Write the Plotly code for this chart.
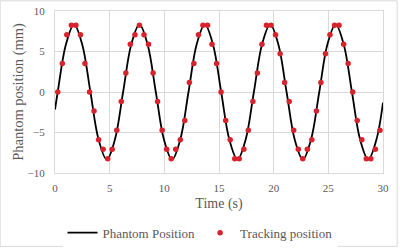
import plotly.graph_objects as go

# Phantom position (continuous reference line)
line_t = [0, 0.25, 1.00, 1.745, 2.49, 3.24, 3.985, 4.735, 5.48, 6.23, 6.975, 7.725, 8.47, 9.22,
          9.965, 10.715, 11.46, 12.21, 12.955, 13.705, 14.45, 15.2, 15.945, 16.695, 17.44, 18.19,
          18.935, 19.685, 20.43, 21.18, 21.925, 22.675, 23.42, 24.17, 24.915, 25.665, 26.41,
          27.16, 27.905, 28.655, 29.4, 30.0]
line_y = [-2.16, 0, 5.87, 8.35, 5.87, 0, -5.87, -8.35, -5.87, 0, 5.87, 8.35, 5.87, 0, -5.87, -8.35,
          -5.87, 0, 5.87, 8.35, 5.87, 0, -5.87, -8.35, -5.87, 0, 5.87, 8.35, 5.87, 0, -5.87, -8.35,
          -5.87, 0, 5.87, 8.35, 5.87, 0, -5.87, -8.35, -5.87, -1.3]

# Tracking position samples
track_t = [0.25, 0.67, 1.08, 1.50, 1.91, 2.33, 2.74, 3.16, 3.57, 3.99, 4.40, 4.82, 5.23, 5.65,
           6.06, 6.48, 6.89, 7.31, 7.72, 8.14, 8.55, 8.97, 9.38, 9.80, 10.21, 10.63, 11.04,
           11.46, 11.87, 12.29, 12.70, 13.12, 13.53, 13.95, 14.36, 14.78, 15.19, 15.61, 16.02,
           16.44, 16.85, 17.27, 17.68, 18.10, 18.51, 18.93, 19.34, 19.76, 20.17, 20.59, 21.00,
           21.42, 21.83, 22.25, 22.66, 23.08, 23.49, 23.91, 24.32, 24.74, 25.15, 25.57, 25.98,
           26.40, 26.81, 27.23, 27.64, 28.06, 28.47, 28.89, 29.30, 29.72]
track_y = [0, 3.53, 7.06, 8.24, 8.24, 7.06, 3.53, 0, -2.35, -5.88, -7.06, -8.24, -7.06, -4.71,
           -1.18, 2.35, 5.88, 7.06, 8.24, 7.06, 5.88, 2.35, -1.18, -4.71, -7.06, -8.24, -7.06,
           -5.88, -3.53, 1.18, 3.53, 7.06, 8.24, 8.24, 5.88, 3.53, 0, -3.53, -5.88, -8.24, -8.24,
           -7.06, -4.71, -1.18, 2.35, 5.88, 8.24, 8.24, 7.06, 4.71, 1.18, -1.18, -4.71, -7.06,
           -8.24, -7.06, -5.88, -2.35, 1.18, 4.71, 7.06, 8.24, 8.24, 5.88, 3.53, 0, -3.53, -5.88,
           -8.24, -8.24, -7.06, -4.71]

x_ticks = [0, 5, 10, 15, 20, 25, 30]
y_ticks = [-10, -5, 0, 5, 10]

FONT = "Liberation Serif"
GRAY = "#595959"
GRID = "#d9d9d9"

L, R, T, B = 55.3, 383.3, 10.7, 173.0
W, H = 400, 248
pw, ph = R - L, B - T

fig = go.Figure()
fig.add_trace(go.Scatter(x=line_t, y=line_y, mode="lines", name="Phantom Position",
                         line=dict(color="black", width=1.8, shape="spline", smoothing=1.0)))
fig.add_trace(go.Scatter(x=track_t, y=track_y, mode="markers", name="Tracking position",
                         marker=dict(color="#d9232c", size=5.5)))

fig.update_layout(
    width=W, height=H,
    margin=dict(l=L, r=W - R, t=T, b=H - B, autoexpand=False),
    paper_bgcolor="white", plot_bgcolor="white",
    font=dict(family=FONT, color=GRAY, size=11),
    showlegend=True,
    legend=dict(orientation="h", xref="container", yref="container", x=0.5, y=1 - 232.7 / H,
                xanchor="center", yanchor="middle", font=dict(size=13, color=GRAY),
                tracegroupgap=0),
    xaxis=dict(range=[0, 30], tickvals=x_ticks, showgrid=True, gridcolor=GRID, gridwidth=1,
               zeroline=False, showline=True, mirror=True, linecolor=GRID, linewidth=1,
               ticks="outside", ticklen=5, tickcolor="rgba(0,0,0,0)", automargin=False,
               tickfont=dict(size=11, color=GRAY),
               title=dict(text="Time (s)", font=dict(size=14, color=GRAY), standoff=4)),
    yaxis=dict(range=[-10, 10], tickvals=y_ticks, showgrid=True, gridcolor=GRID, gridwidth=1,
               zeroline=False, showline=True, mirror=True, linecolor=GRID, linewidth=1,
               ticks="outside", ticklen=7, tickcolor="rgba(0,0,0,0)", automargin=False,
               tickfont=dict(size=11, color=GRAY),
               title=dict(text="Phantom position (mm)", font=dict(size=14.5, color=GRAY), standoff=0)),
    shapes=[dict(type="rect", xref="paper", yref="paper",
                 x0=-(L - 0.5) / pw, x1=1 + (397.5 - R) / pw,
                 y0=-(246.5 - B) / ph, y1=1 + (T - 0.5) / ph,
                 line=dict(color=GRID, width=1), fillcolor="rgba(0,0,0,0)", layer="below")],
)

fig.write_html("out.html", config={"displayModeBar": False},
               post_script="document.body.style.margin='0';document.body.style.padding='0';")
